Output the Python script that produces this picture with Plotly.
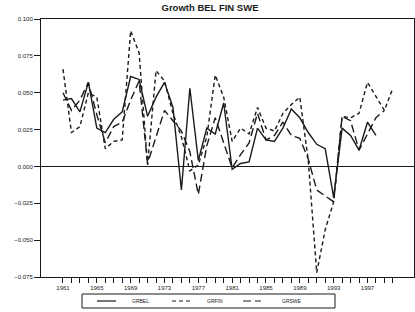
import plotly.graph_objects as go

years_bel = list(range(1961, 1999))
years_fin = list(range(1961, 2001))
years_swe = list(range(1961, 2000))

grbel = [0.045, 0.046, 0.037, 0.057, 0.026, 0.023, 0.032, 0.037, 0.061, 0.059,
         0.034, 0.047, 0.057, 0.040, -0.016, 0.053, 0.004, 0.026, 0.022, 0.043,
         -0.002, 0.002, 0.003, 0.026, 0.018, 0.017, 0.026, 0.039, 0.033, 0.023,
         0.015, 0.012, -0.021, 0.026, 0.021, 0.011, 0.030, 0.021]
grfin = [0.066, 0.023, 0.027, 0.050, 0.047, 0.012, 0.017, 0.018, 0.092, 0.077,
         0.001, 0.065, 0.058, 0.036, 0.020, -0.003, 0.001, 0.020, 0.062, 0.047,
         0.017, 0.026, 0.022, 0.040, 0.026, 0.024, 0.036, 0.042, 0.047, 0.004,
         -0.072, -0.043, -0.024, 0.034, 0.033, 0.036, 0.057, 0.047, 0.038, 0.053]
grswe = [0.050, 0.038, 0.045, 0.057, 0.035, 0.016, 0.027, 0.030, 0.045, 0.058,
         0.002, 0.020, 0.038, 0.031, 0.024, 0.010, -0.019, 0.014, 0.033, 0.016,
         -0.001, 0.008, 0.016, 0.036, 0.018, 0.021, 0.030, 0.021, 0.019, 0.005,
         -0.016, -0.020, -0.024, 0.034, 0.031, 0.011, 0.022, 0.033, 0.038]

series_names = ["GRBEL", "GRFIN", "GRSWE"]
xtick_vals = [1961, 1965, 1969, 1973, 1977, 1981, 1985, 1989, 1993, 1997]
ytick_vals = [-0.075, -0.050, -0.025, 0.000, 0.025, 0.050, 0.075, 0.100]

FONT = "Liberation Sans, Arial, sans-serif"
INK = "#1a1a1a"
dashes = ["solid", "4px,3px", "8px,4px"]

fig = go.Figure()
for xs, ys, nm, ds in zip([years_bel, years_fin, years_swe], [grbel, grfin, grswe],
                          series_names, dashes):
    fig.add_trace(go.Scatter(x=xs, y=ys, mode="lines", name=nm, showlegend=False,
                             line=dict(color=INK, width=1.4, dash=ds)))

# plot area geometry in pixels (for the boxed legend below the axis)
L, T, W, H = 41, 19, 373, 258
def px(x):
    return (x - L) / W
def py(y):
    return (T + H - y) / H

shapes = [dict(type="rect", xref="paper", yref="paper",
               x0=px(82), x1=px(335), y0=py(308), y1=py(294),
               line=dict(color=INK, width=1))]
annots = []
sample_x = [(97, 116), (172, 192), (243, 261)]
text_x = [130, 205, 280]
for (a, b), tx, nm, ds in zip(sample_x, text_x, series_names, dashes):
    shapes.append(dict(type="line", xref="paper", yref="paper",
                       x0=px(a), x1=px(b), y0=py(301), y1=py(301),
                       line=dict(color=INK, width=1.2, dash=ds)))
    annots.append(dict(text=nm, xref="paper", yref="paper", x=px(tx), y=py(301),
                       xanchor="left", yanchor="middle", showarrow=False,
                       font=dict(size=5, family=FONT, color=INK)))

fig.update_layout(
    width=415, height=312,
    margin=dict(l=L, r=415 - L - W, t=T, b=312 - T - H, autoexpand=False),
    paper_bgcolor="white", plot_bgcolor="white",
    font=dict(family=FONT, size=6, color=INK),
    title=dict(text="<b>Growth BEL FIN SWE</b>", x=210/415, xanchor="center",
               y=1 - 8/312, yanchor="middle", font=dict(size=9.5, family=FONT, color=INK)),
    showlegend=False,
    shapes=shapes,
    annotations=annots,
)
fig.update_xaxes(range=[1958.4, 2002.5], tickmode="array", tickvals=xtick_vals,
                 ticks="outside", ticklen=5, tickcolor=INK, showgrid=False,
                 showline=True, linecolor=INK, linewidth=1, mirror=True,
                 zeroline=False, automargin=False,
                 minor=dict(tickmode="array", tickvals=list(range(1961, 2001)),
                            ticks="outside", ticklen=5, tickcolor=INK, showgrid=False),
                 tickfont=dict(size=6, family=FONT))
fig.update_yaxes(range=[-0.075, 0.100], tickmode="array", tickvals=ytick_vals,
                 tickformat=".3f", ticks="outside", ticklen=6, tickcolor=INK,
                 showgrid=False, showline=True, linecolor=INK, linewidth=1, mirror=True,
                 zeroline=True, zerolinecolor=INK, zerolinewidth=1, automargin=False,
                 tickfont=dict(size=6, family=FONT))

fig.write_html("out.html", config={"displayModeBar": False},
               post_script="document.body.style.margin='0';document.body.style.overflow='hidden';")
